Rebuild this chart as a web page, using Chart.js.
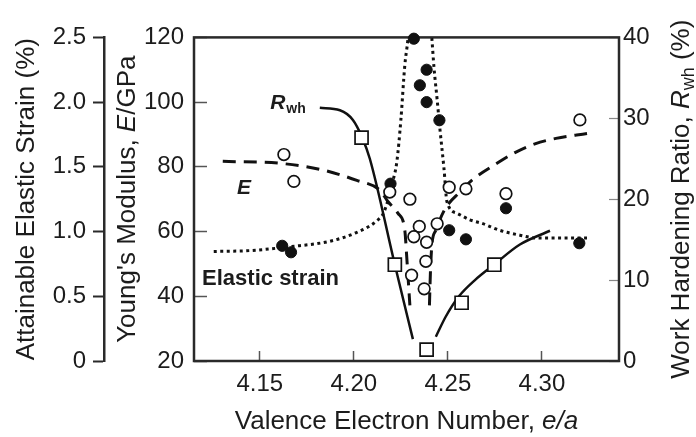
<!DOCTYPE html>
<html>
<head>
<meta charset="utf-8">
<title>Valence electron number vs. E, strain and Rwh</title>
<script src="https://cdn.jsdelivr.net/npm/chart.js@4.4.1/dist/chart.umd.min.js"></script>
<style>
  html, body { margin: 0; padding: 0; background: #fff; }
  #wrap { width: 696px; height: 437px; }
</style>
</head>
<body>
<div id="wrap"><canvas id="chart" width="696" height="437"></canvas></div>
<script>
// Young's modulus E (GPa) - open circles
const eX   = [4.1628, 4.1681, 4.2191, 4.2298, 4.2348, 4.2319, 4.2387, 4.2443, 4.2383, 4.2307, 4.2374, 4.2507, 4.2596, 4.2809, 4.3202];
const eVal = [83.8, 75.5, 72.2, 70.0, 61.6, 58.4, 56.7, 62.4, 50.8, 46.5, 42.3, 73.7, 73.2, 71.7, 94.5];

// attainable elastic strain (%) - filled circles
const strainX   = [4.1619, 4.1666, 4.2195, 4.2319, 4.2387, 4.2351, 4.2387, 4.2455, 4.2507, 4.2596, 4.2809, 4.3199];
const strainVal = [0.89, 0.84, 1.37, 2.49, 2.25, 2.13, 2.00, 1.86, 1.01, 0.94, 1.18, 0.91];

// work hardening ratio Rwh (%) - open squares
const rwhX   = [4.2041, 4.2218, 4.2387, 4.2573, 4.2747];
const rwhVal = [27.6, 11.9, 1.4, 7.2, 11.9];

// trend curves
const strainFitX   = [4.1255, 4.1447, 4.1660, 4.1872, 4.2016, 4.2122, 4.2160, 4.2208, 4.2229, 4.2250, 4.2271, 4.2287, 4.2352, 4.2415, 4.2426, 4.2442, 4.2458, 4.2479, 4.2495, 4.2548, 4.2617, 4.2686, 4.2777, 4.2883, 4.2974, 4.3096, 4.3240];
const strainFitVal = [0.846, 0.853, 0.883, 0.925, 0.994, 1.083, 1.150, 1.392, 1.543, 1.862, 2.285, 2.478, 3.6, 2.49, 2.27, 2.033, 1.788, 1.491, 1.232, 1.142, 1.091, 1.061, 1.009, 0.972, 0.950, 0.950, 0.950];

const eFitLowX    = [4.1303, 4.1606, 4.1830, 4.2016, 4.2138, 4.2181, 4.2234, 4.2271, 4.2282, 4.2298];
const eFitLowVal  = [81.7, 81.1, 79.1, 75.8, 72.8, 69.3, 65.7, 60.4, 51.5, 37.2];
const eFitHighX   = [4.2402, 4.2407, 4.2415, 4.2436, 4.2484, 4.2564, 4.2633, 4.2761, 4.2857, 4.2963, 4.3075, 4.3240];
const eFitHighVal = [37.2, 47.0, 55.9, 60.4, 66.9, 72.2, 76.1, 81.1, 84.4, 87.1, 88.8, 90.3];

const rwhFitLowX    = [4.1819, 4.1926, 4.1995, 4.2043, 4.2085, 4.2218, 4.2314];
const rwhFitLowVal  = [31.3, 31.0, 29.8, 27.7, 25.0, 11.9, 2.7];
const rwhFitHighX   = [4.2436, 4.2489, 4.2559, 4.2644, 4.2745, 4.2883, 4.3043];
const rwhFitHighVal = [3.0, 5.5, 8.0, 10.0, 11.9, 14.4, 16.1];

// axis ticks
const xTicks      = [4.15, 4.20, 4.25, 4.30];
const eTicks      = [20, 40, 60, 80, 100, 120];
const strainTicks = [0, 0.5, 1.0, 1.5, 2.0, 2.5];
const rwhTicks    = [0, 10, 20, 30, 40];

const FONT = '"Liberation Sans", Arial, sans-serif';
const INK = '#1c1c1c';
const LINE = '#111';

const pts = (xs, ys) => xs.map((x, i) => ({ x: x, y: ys[i] }));
const setTicks = list => scale => { scale.ticks = list.map(v => ({ value: v })); };
const tickFont = { family: FONT, size: 24 };

// draw a run of differently styled text pieces centred on (cx, cy)
function drawRuns(ctx, runs, cx, cy, angle) {
    ctx.save();
    ctx.translate(cx, cy);
    ctx.rotate(angle);
    ctx.fillStyle = INK;
    ctx.textAlign = 'left';
    ctx.textBaseline = 'middle';
    let total = 0;
    runs.forEach(r => { ctx.font = r.font; r.w = ctx.measureText(r.text).width; total += r.w; });
    let x = -total / 2;
    runs.forEach(r => { ctx.font = r.font; ctx.fillText(r.text, x, r.dy || 0); x += r.w; });
    ctx.restore();
}

const frameAndTitles = {
    id: 'frameAndTitles',
    beforeDatasetsDraw(chart) {
        const { ctx, chartArea: a } = chart;
        ctx.save();
        ctx.strokeStyle = '#2a2a2a';
        ctx.lineWidth = 2.5;
        ctx.strokeRect(a.left, a.top, a.right - a.left, a.bottom - a.top);
        ctx.restore();
    },
    afterDraw(chart) {
        const { ctx, chartArea: a, scales } = chart;
        const midY = (a.top + a.bottom) / 2;
        const midX = (a.left + a.right) / 2;
        const up = -Math.PI / 2;
        const reg = '26px ' + FONT;
        const ital = 'italic 26px ' + FONT;
        drawRuns(ctx, [{ text: 'Attainable Elastic Strain (%)', font: reg }],
            scales.yS.left + 27, midY, up);
        drawRuns(ctx, [
            { text: "Young's Modulus, ", font: reg },
            { text: 'E', font: ital },
            { text: '/GPa', font: reg }
        ], scales.y.left + 24, midY, up);
        drawRuns(ctx, [
            { text: 'Work Hardening Ratio, ', font: reg },
            { text: 'R', font: ital },
            { text: 'wh', font: '18px ' + FONT, dy: 7 },
            { text: ' (%)', font: reg }
        ], scales.yR.right - 14, midY, up);
        drawRuns(ctx, [
            { text: 'Valence Electron Number, ', font: reg },
            { text: 'e/a', font: ital }
        ], midX, scales.x.bottom - 15, 0);
    }
};

// curve labels placed in data units (x, E)
const curveLabels = {
    id: 'curveLabels',
    afterDatasetsDraw(chart) {
        const { ctx, scales: { x, y } } = chart;
        ctx.save();
        ctx.fillStyle = INK;
        ctx.textAlign = 'left';
        ctx.textBaseline = 'alphabetic';

        let px = x.getPixelForValue(4.1555), py = y.getPixelForValue(98.0);
        ctx.font = 'italic bold 21px ' + FONT;
        ctx.fillText('R', px, py);
        px += ctx.measureText('R').width + 1;
        ctx.font = 'bold 14px ' + FONT;
        ctx.fillText('wh', px, py + 4);

        ctx.font = 'italic bold 21px ' + FONT;
        ctx.fillText('E', x.getPixelForValue(4.1378), y.getPixelForValue(71.7));

        ctx.font = 'bold 22px ' + FONT;
        ctx.fillText('Elastic strain', x.getPixelForValue(4.1193), y.getPixelForValue(43.5));
        ctx.restore();
    }
};

const marker = { showLine: false, clip: false, borderColor: LINE, borderWidth: 1.7 };
const curve = { showLine: true, pointRadius: 0, borderColor: LINE, fill: false, cubicInterpolationMode: 'monotone', clip: 2 };

new Chart(document.getElementById('chart'), {
    type: 'scatter',
    data: {
        datasets: [
            Object.assign({}, marker, { label: 'E', data: pts(eX, eVal), yAxisID: 'y',
                pointStyle: 'circle', pointRadius: 5.8, backgroundColor: '#fff' }),
            Object.assign({}, marker, { label: 'Elastic strain', data: pts(strainX, strainVal), yAxisID: 'yS',
                pointStyle: 'circle', pointRadius: 5.6, backgroundColor: '#111', borderWidth: 1 }),
            Object.assign({}, marker, { label: 'Rwh', data: pts(rwhX, rwhVal), yAxisID: 'yR',
                pointStyle: 'rect', pointRadius: 9.2, backgroundColor: '#fff' }),
            Object.assign({}, curve, { data: pts(strainFitX, strainFitVal), yAxisID: 'yS',
                borderWidth: 3, borderDash: [3, 3.5], clip: 0 }),
            Object.assign({}, curve, { data: pts(eFitLowX, eFitLowVal), yAxisID: 'y',
                borderWidth: 3, borderDash: [13, 8] }),
            Object.assign({}, curve, { data: pts(eFitHighX, eFitHighVal), yAxisID: 'y',
                borderWidth: 3, borderDash: [13, 8] }),
            Object.assign({}, curve, { data: pts(rwhFitLowX, rwhFitLowVal), yAxisID: 'yR', borderWidth: 2.5 }),
            Object.assign({}, curve, { data: pts(rwhFitHighX, rwhFitHighVal), yAxisID: 'yR', borderWidth: 2.5 })
        ]
    },
    options: {
        responsive: false,
        animation: false,
        devicePixelRatio: 1,
        layout: { padding: { top: 24, left: 0, right: 0, bottom: 0 } },
        plugins: { legend: { display: false }, tooltip: { enabled: false } },
        scales: {
            x: {
                type: 'linear', position: 'bottom', min: 4.115, max: 4.341,
                afterBuildTicks: setTicks(xTicks),
                afterFit: s => { s.height = 76; },
                grid: { drawOnChartArea: false, tickLength: -10, tickColor: '#555', tickWidth: 1.5 },
                border: { display: false },
                ticks: { padding: 19, color: INK, font: tickFont, maxRotation: 0,
                    callback: v => v.toFixed(2) }
            },
            y: {
                type: 'linear', position: 'left', weight: 0, min: 20, max: 120,
                afterBuildTicks: setTicks(eTicks),
                afterFit: s => { s.width = 90; },
                grid: { drawOnChartArea: false, tickLength: -13, tickColor: '#555', tickWidth: 1.5 },
                border: { display: false },
                ticks: { padding: 23, color: INK, font: tickFont }
            },
            yS: {
                type: 'linear', position: 'left', weight: 1, min: 0, max: 2.5,
                afterBuildTicks: setTicks(strainTicks),
                afterFit: s => { s.width = 104; },
                grid: { drawOnChartArea: false, tickLength: 11, tickColor: '#2a2a2a', tickWidth: 2 },
                border: { display: true, color: '#2a2a2a', width: 2.5 },
                ticks: { padding: 7, color: INK, font: tickFont,
                    callback: v => v === 0 ? '0' : v.toFixed(1) }
            },
            yR: {
                type: 'linear', position: 'right', min: 0, max: 40,
                afterBuildTicks: setTicks(rwhTicks),
                afterFit: s => { s.width = 77; },
                grid: { drawOnChartArea: false, tickLength: -10, tickColor: '#888', tickWidth: 1.2 },
                border: { display: false },
                ticks: { padding: 14, color: INK, font: tickFont }
            }
        }
    },
    plugins: [frameAndTitles, curveLabels]
});
</script>
</body>
</html>
